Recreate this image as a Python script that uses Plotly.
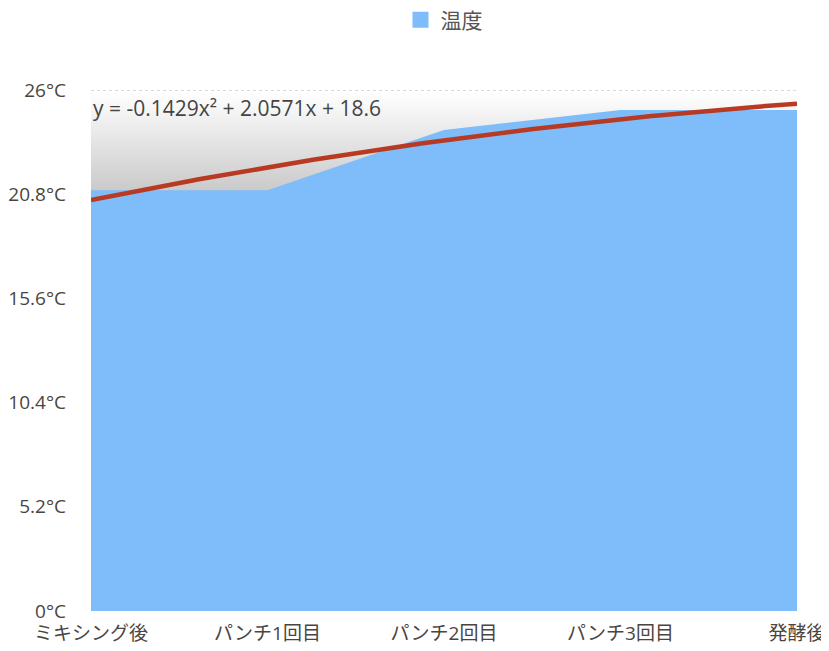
import numpy as np
import plotly.graph_objects as go

# 温度の推移 (ミキシング後〜発酵後)
categorias = ['ミキシング後', 'パンチ1回目', 'パンチ2回目', 'パンチ3回目', '発酵後']
temperaturas = [21, 21, 24, 25, 25]
ticks_y = [0, 5.2, 10.4, 15.6, 20.8, 26]
etiquetas_y = ['0°C', '5.2°C', '10.4°C', '15.6°C', '20.8°C', '26°C']

x_idx = list(range(len(categorias)))

# linea de tendencia polinomica (grado 2), x empieza en 1 como en la hoja de calculo
coef = np.polyfit(np.arange(1, len(temperaturas) + 1), temperaturas, 2)
x_curva = np.linspace(0, len(categorias) - 1, 200)
y_curva = np.polyval(coef, x_curva + 1)
ecuacion = 'y = %.4fx² + %.4fx + %.1f' % (coef[0], coef[1], coef[2])

azul = '#7ebcfa'

fig = go.Figure()

# banda gris con degradado detras del area
fig.add_trace(go.Scatter(x=[0, 4], y=[20.8, 20.8], mode='lines',
                         line=dict(width=0), showlegend=False, hoverinfo='skip'))
fig.add_trace(go.Scatter(x=[0, 4], y=[25.9, 25.9], mode='lines',
                         line=dict(width=0), fill='tonexty',
                         fillgradient=dict(type='vertical',
                                           colorscale=[[0, '#c8c8c8'], [1, '#ffffff']]),
                         showlegend=False, hoverinfo='skip'))

fig.add_trace(go.Scatter(x=x_idx, y=temperaturas, name='温度', mode='lines',
                         line=dict(width=0, color=azul),
                         fill='tozeroy', fillcolor=azul, showlegend=False))

# solo para la leyenda (cuadro azul)
fig.add_trace(go.Scatter(x=[None], y=[None], name='温度', mode='markers',
                         marker=dict(symbol='square', size=20, color=azul)))

fig.add_trace(go.Scatter(x=x_curva, y=y_curva, mode='lines',
                         line=dict(color='#b93a23', width=4.5),
                         showlegend=False, hoverinfo='skip'))

fig.add_annotation(x=0, y=1.0, xref='x', yref='paper', xanchor='left', yanchor='top',
                   xshift=0, yshift=-2, text=ecuacion, showarrow=False,
                   font=dict(size=21, color='#444444'))

# linea punteada superior (26°C)
fig.add_shape(type='line', xref='paper', yref='y', x0=0, x1=1, y0=26, y1=26,
              line=dict(color='#b5b5b5', width=1, dash='dot'), layer='above')

# la pagina tiene 8px de margen en el body, por eso se descuentan
fig.update_layout(
    width=829, height=651,
    margin=dict(l=83, r=40, t=82, b=48, autoexpand=False),
    paper_bgcolor='white', plot_bgcolor='white',
    font=dict(family='Open Sans, Noto Sans CJK JP, sans-serif', size=19, color='#4a4540'),
    legend=dict(orientation='h', x=0.5, xanchor='center', y=1.134, yanchor='middle',
                font=dict(size=21, color='#555555')),
    xaxis=dict(range=[0, 4], tickvals=x_idx, ticktext=categorias,
               showgrid=False, zeroline=False, showline=False, ticks='',
               ticklabelstandoff=9),
    yaxis=dict(range=[0, 26], tickvals=ticks_y, ticktext=etiquetas_y,
               showgrid=False, zeroline=False, showline=False, ticks='',
               ticklabelstandoff=24),
)

fig.write_html('out.html')
